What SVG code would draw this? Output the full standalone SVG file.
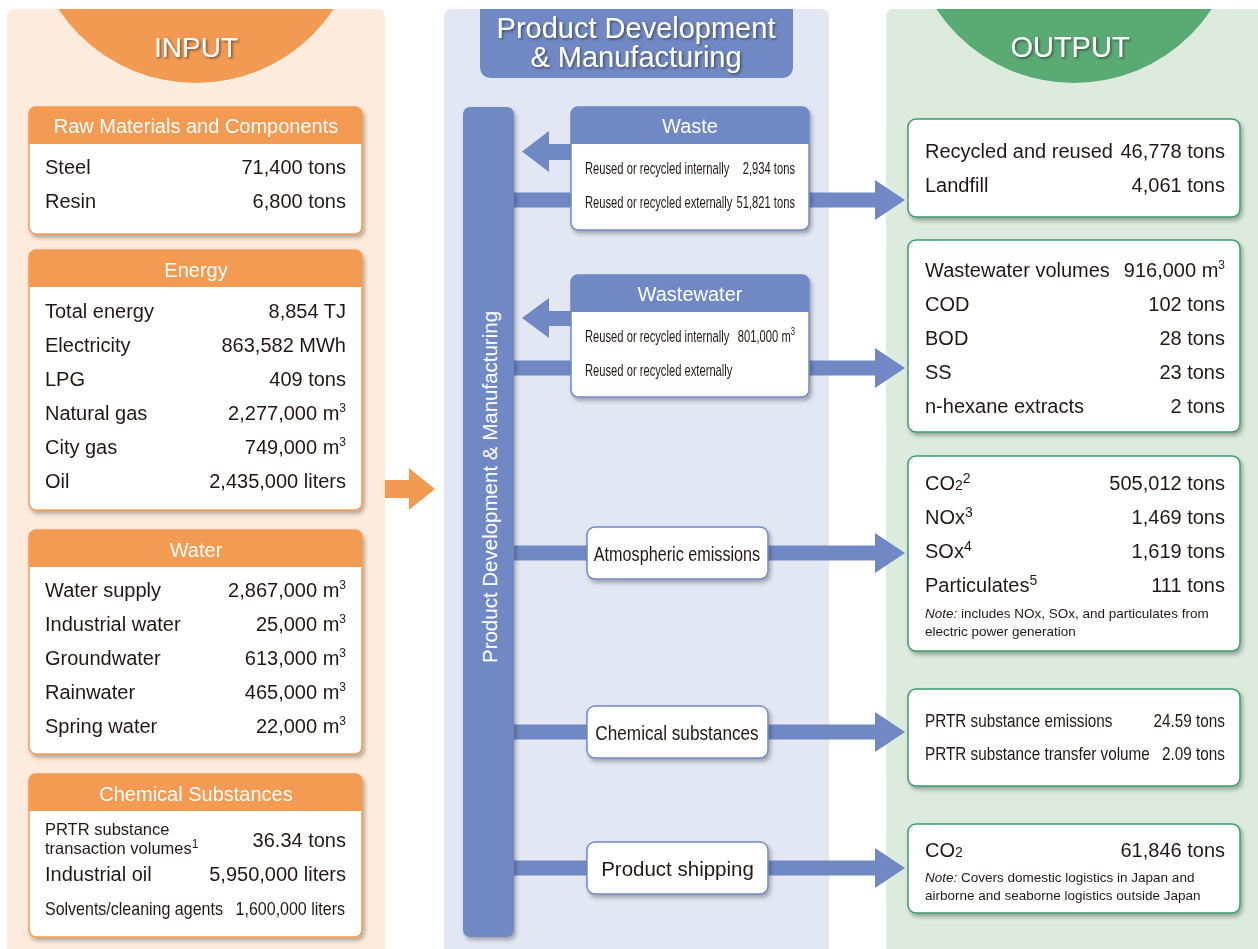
<svg xmlns="http://www.w3.org/2000/svg" width="1258" height="949" viewBox="0 0 1258 949">
<style>
.t{font-family:"Liberation Sans",Arial,sans-serif;font-size:20px;fill:#231815}
.r{text-anchor:end}
.m{text-anchor:middle}
.w{fill:#fff}
.sup{font-size:12px}
.note{font-size:13.5px}
.c16{font-size:16px}
.c18{font-size:18px}
.ob{fill:#fff;stroke:#3a9c6a;stroke-width:1.5}
.ib{fill:#fff;stroke:#f39a52;stroke-width:1.5}
.bb{fill:#fff;stroke:#7089c5;stroke-width:1.5}
.oh{fill:#f39a52}
.bh{fill:#7089c5}
.arr{fill:#7089c5}
</style>
<defs>
<filter id="sh" x="-10%" y="-10%" width="125%" height="135%"><feDropShadow dx="2" dy="3" stdDeviation="2" flood-color="#000" flood-opacity="0.3"/></filter>
<filter id="ts" x="-10%" y="-20%" width="130%" height="150%"><feDropShadow dx="1.5" dy="1.5" stdDeviation="1" flood-color="#333" flood-opacity="0.7"/></filter>
<clipPath id="cl"><rect x="7" y="9" width="378" height="960" rx="7"/></clipPath>
<clipPath id="cr"><rect x="886" y="9" width="400" height="960" rx="7"/></clipPath>
<clipPath id="cm"><rect x="444" y="9" width="385" height="960" rx="7"/></clipPath>
</defs>

<!-- panels -->
<g id="panels">
<rect x="7" y="9" width="378" height="960" rx="7" fill="#fdecdd"/>
<circle cx="196" cy="-82" r="165" fill="#f39a52" clip-path="url(#cl)"/>
<rect x="444" y="9" width="385" height="960" rx="7" fill="#e3e7f3"/>
<rect x="886" y="9" width="400" height="960" rx="7" fill="#dcebdd"/>
<circle cx="1074" cy="-82" r="165" fill="#5aaa74" clip-path="url(#cr)"/>
<text class="t w m" x="196" y="57" style="font-size:28px" filter="url(#ts)">INPUT</text>
<text class="t w m" x="1070" y="57" style="font-size:29px" filter="url(#ts)">OUTPUT</text>
</g>

<g id="pdm-header">
<path d="M480,9 H793 V66 Q793,78 781,78 H492 Q480,78 480,66 Z" class="bh" clip-path="url(#cm)"/>
<text class="t w m" x="636" y="38" style="font-size:29px" filter="url(#ts)">Product Development</text>
<text class="t w m" x="636" y="67" style="font-size:29px" filter="url(#ts)">&amp; Manufacturing</text>
</g>

<!-- connectors -->
<g id="connectors">
<path d="M385,480 H409 V468 L435,489 L409,510 V498 H385 Z" style="fill:#f39a52"/>
<path class="arr" d="M514,192.5 H875 V180 L905,200 L875,220 V207.5 H514 Z"/>
<path class="arr" d="M514,360.5 H875 V348 L905,368 L875,388 V375.5 H514 Z"/>
<path class="arr" d="M514,545.5 H875 V533 L905,553 L875,573 V560.5 H514 Z"/>
<path class="arr" d="M514,724.5 H875 V712 L905,732 L875,752 V739.5 H514 Z"/>
<path class="arr" d="M514,860.5 H875 V848 L905,868 L875,888 V875.5 H514 Z"/>
<path class="arr" d="M575,144 H549 V131 L522,151.5 L549,172 V160 H575 Z"/>
<path class="arr" d="M575,311 H549 V298 L522,318 L549,338 V326 H575 Z"/>
</g>

<g id="pdm-bar">
<rect x="463" y="107" width="51" height="830" rx="7" class="bh" filter="url(#sh)"/>
<text class="t w m" transform="translate(497,487) rotate(-90)" style="font-size:20.5px">Product Development &amp; Manufacturing</text>
</g>

<!-- input boxes -->
<g id="raw-materials" filter="url(#sh)">
<rect x="29" y="107" width="333" height="127" rx="7" class="ib"/>
<path d="M29,144 V114 Q29,107 36,107 H355 Q362,107 362,114 V144 Z" class="oh"/>
<text class="t w m" x="196" y="133">Raw Materials and Components</text>
<text class="t" x="45" y="174">Steel</text><text class="t r" x="346" y="174">71,400 tons</text>
<text class="t" x="45" y="208">Resin</text><text class="t r" x="346" y="208">6,800 tons</text>
</g>

<g id="energy" filter="url(#sh)">
<rect x="29" y="250" width="333" height="260" rx="7" class="ib"/>
<path d="M29,287 V257 Q29,250 36,250 H355 Q362,250 362,257 V287 Z" class="oh"/>
<text class="t w m" x="196" y="277">Energy</text>
<text class="t" x="45" y="318">Total energy</text><text class="t r" x="346" y="318">8,854 TJ</text>
<text class="t" x="45" y="352">Electricity</text><text class="t r" x="346" y="352">863,582 MWh</text>
<text class="t" x="45" y="386">LPG</text><text class="t r" x="346" y="386">409 tons</text>
<text class="t" x="45" y="420">Natural gas</text><text class="t r" x="346" y="420">2,277,000 m<tspan class="sup" dy="-8">3</tspan></text>
<text class="t" x="45" y="454">City gas</text><text class="t r" x="346" y="454">749,000 m<tspan class="sup" dy="-8">3</tspan></text>
<text class="t" x="45" y="488">Oil</text><text class="t r" x="346" y="488">2,435,000 liters</text>
</g>

<g id="water" filter="url(#sh)">
<rect x="29" y="530" width="333" height="224" rx="7" class="ib"/>
<path d="M29,567 V537 Q29,530 36,530 H355 Q362,530 362,537 V567 Z" class="oh"/>
<text class="t w m" x="196" y="557">Water</text>
<text class="t" x="45" y="597">Water supply</text><text class="t r" x="346" y="597">2,867,000 m<tspan class="sup" dy="-8">3</tspan></text>
<text class="t" x="45" y="631">Industrial water</text><text class="t r" x="346" y="631">25,000 m<tspan class="sup" dy="-8">3</tspan></text>
<text class="t" x="45" y="665">Groundwater</text><text class="t r" x="346" y="665">613,000 m<tspan class="sup" dy="-8">3</tspan></text>
<text class="t" x="45" y="699">Rainwater</text><text class="t r" x="346" y="699">465,000 m<tspan class="sup" dy="-8">3</tspan></text>
<text class="t" x="45" y="733">Spring water</text><text class="t r" x="346" y="733">22,000 m<tspan class="sup" dy="-8">3</tspan></text>
</g>

<g id="chemical-substances" filter="url(#sh)">
<rect x="29" y="774" width="333" height="163" rx="7" class="ib"/>
<path d="M29,811 V781 Q29,774 36,774 H355 Q362,774 362,781 V811 Z" class="oh"/>
<text class="t w m" x="196" y="801">Chemical Substances</text>
<text class="t" x="45" y="835" style="font-size:16.5px">PRTR substance</text>
<text class="t" x="45" y="854" style="font-size:16.5px">transaction volumes<tspan class="sup" dy="-6">1</tspan></text>
<text class="t r" x="346" y="847">36.34 tons</text>
<text class="t" x="45" y="881">Industrial oil</text><text class="t r" x="346" y="881">5,950,000 liters</text>
<text class="t c18" transform="translate(45,915) scale(0.89,1)">Solvents/cleaning agents</text>
<text class="t c18 r" transform="translate(345,915) scale(0.89,1)">1,600,000 liters</text>
</g>

<!-- middle boxes -->
<g id="waste" filter="url(#sh)">
<rect x="571" y="107" width="238" height="123" rx="7" class="bb"/>
<path d="M571,144 V114 Q571,107 578,107 H802 Q809,107 809,114 V144 Z" class="bh"/>
<text class="t w m" x="690" y="133">Waste</text>
<text class="t c16" transform="translate(585,174) scale(0.7,1)">Reused or recycled internally</text>
<text class="t c16 r" transform="translate(795,174) scale(0.7,1)">2,934 tons</text>
<text class="t c16" transform="translate(585,208) scale(0.7,1)">Reused or recycled externally</text>
<text class="t c16 r" transform="translate(795,208) scale(0.7,1)">51,821 tons</text>
</g>

<g id="wastewater" filter="url(#sh)">
<rect x="571" y="275" width="238" height="122" rx="7" class="bb"/>
<path d="M571,312 V282 Q571,275 578,275 H802 Q809,275 809,282 V312 Z" class="bh"/>
<text class="t w m" x="690" y="301">Wastewater</text>
<text class="t c16" transform="translate(585,342) scale(0.7,1)">Reused or recycled internally</text>
<text class="t c16 r" transform="translate(795,342) scale(0.7,1)">801,000 m<tspan style="font-size:11px" dy="-7">3</tspan></text>
<text class="t c16" transform="translate(585,376) scale(0.7,1)">Reused or recycled externally</text>
</g>

<g id="atmospheric-emissions" filter="url(#sh)">
<rect x="587" y="527" width="181" height="52" rx="8" class="bb"/>
<text class="t m" transform="translate(677,561) scale(0.81,1)">Atmospheric emissions</text>
</g>

<g id="chemical-substances-out" filter="url(#sh)">
<rect x="587" y="706" width="181" height="52" rx="8" class="bb"/>
<text class="t m" transform="translate(677,740) scale(0.86,1)">Chemical substances</text>
</g>

<g id="product-shipping" filter="url(#sh)">
<rect x="587" y="842" width="181" height="52" rx="8" class="bb"/>
<text class="t m" x="677.5" y="876" style="font-size:20.5px">Product shipping</text>
</g>

<!-- output boxes -->
<g id="out-waste" filter="url(#sh)">
<rect x="908" y="119" width="332" height="98" rx="8" class="ob"/>
<text class="t" x="925" y="158">Recycled and reused</text><text class="t r" x="1225" y="158">46,778 tons</text>
<text class="t" x="925" y="192">Landfill</text><text class="t r" x="1225" y="192">4,061 tons</text>
</g>

<g id="out-wastewater" filter="url(#sh)">
<rect x="908" y="240" width="332" height="192" rx="8" class="ob"/>
<text class="t" x="925" y="277">Wastewater volumes</text><text class="t r" x="1225" y="277">916,000 m<tspan class="sup" dy="-8">3</tspan></text>
<text class="t" x="925" y="311">COD</text><text class="t r" x="1225" y="311">102 tons</text>
<text class="t" x="925" y="345">BOD</text><text class="t r" x="1225" y="345">28 tons</text>
<text class="t" x="925" y="379">SS</text><text class="t r" x="1225" y="379">23 tons</text>
<text class="t" x="925" y="413">n-hexane extracts</text><text class="t r" x="1225" y="413">2 tons</text>
</g>

<g id="out-atmospheric" filter="url(#sh)">
<rect x="908" y="456" width="332" height="195" rx="8" class="ob"/>
<text class="t" x="925" y="490">CO<tspan style="font-size:14px">2</tspan><tspan style="font-size:14px" dy="-7">2</tspan></text><text class="t r" x="1225" y="490">505,012 tons</text>
<text class="t" x="925" y="524">NOx<tspan style="font-size:14px" dy="-7">3</tspan></text><text class="t r" x="1225" y="524">1,469 tons</text>
<text class="t" x="925" y="558">SOx<tspan style="font-size:14px" dy="-7">4</tspan></text><text class="t r" x="1225" y="558">1,619 tons</text>
<text class="t" x="925" y="592">Particulates<tspan style="font-size:14px" dy="-7">5</tspan></text><text class="t r" x="1225" y="592">111 tons</text>
<text class="t note" x="925" y="618"><tspan font-style="italic">Note:</tspan> includes NOx, SOx, and particulates from</text>
<text class="t note" x="925" y="636">electric power generation</text>
</g>

<g id="out-chemical" filter="url(#sh)">
<rect x="908" y="689" width="332" height="97" rx="8" class="ob"/>
<text class="t c18" transform="translate(925,727) scale(0.85,1)">PRTR substance emissions</text>
<text class="t c18 r" transform="translate(1225,727) scale(0.85,1)">24.59 tons</text>
<text class="t c18" transform="translate(925,760) scale(0.85,1)">PRTR substance transfer volume</text>
<text class="t c18 r" transform="translate(1225,760) scale(0.85,1)">2.09 tons</text>
</g>

<g id="out-shipping" filter="url(#sh)">
<rect x="908" y="824" width="332" height="89" rx="8" class="ob"/>
<text class="t" x="925" y="857">CO<tspan style="font-size:14px">2</tspan></text><text class="t r" x="1225" y="857">61,846 tons</text>
<text class="t note" x="925" y="882"><tspan font-style="italic">Note:</tspan> Covers domestic logistics in Japan and</text>
<text class="t note" x="925" y="900">airborne and seaborne logistics outside Japan</text>
</g>
</svg>
